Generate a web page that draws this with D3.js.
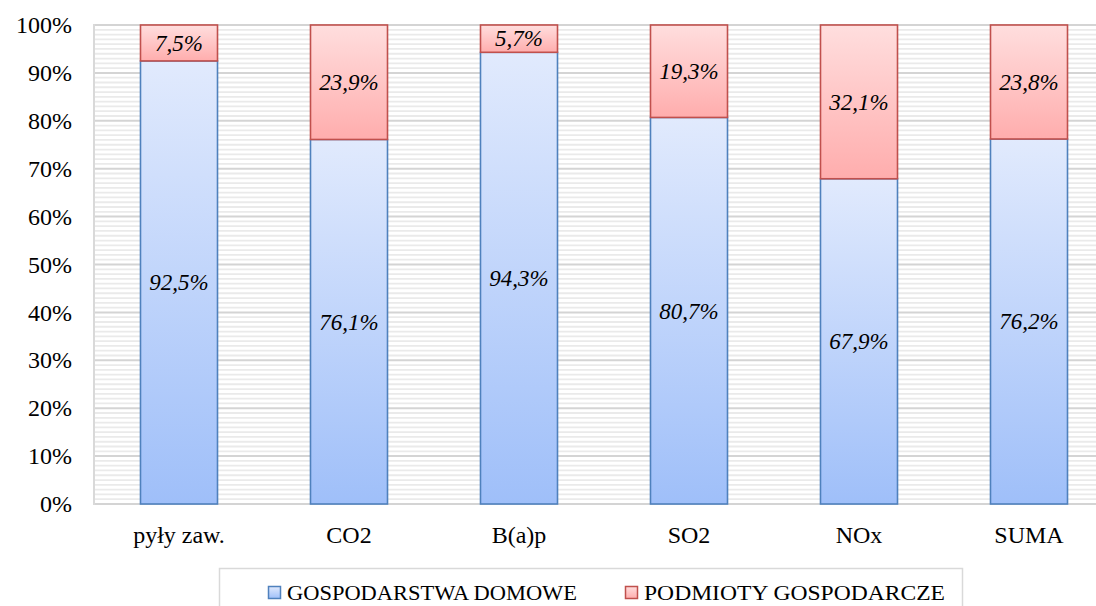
<!DOCTYPE html>
<html>
<head>
<meta charset="utf-8">
<script src="https://cdnjs.cloudflare.com/ajax/libs/d3/7.8.5/d3.min.js"></script>
<style>
body { margin: 0; background: #fff; }
svg { display: block; }
</style>
</head>
<body>
<div id="chart"></div>
<script>
// data
const categories = ["pyły zaw.", "CO2", "B(a)p", "SO2", "NOx", "SUMA"]
const households = [92.5, 76.1, 94.3, 80.7, 67.9, 76.2]
const businesses = [7.5, 23.9, 5.7, 19.3, 32.1, 23.8]
const seriesNames = ["GOSPODARSTWA DOMOWE", "PODMIOTY GOSPODARCZE"]
const yTicks = [0, 10, 20, 30, 40, 50, 60, 70, 80, 90, 100]

const width = 1096, height = 606
const serif = "'Liberation Serif', 'Times New Roman', serif"

const svg = d3.select("#chart").append("svg")
    .attr("width", width)
    .attr("height", height)

const defs = svg.append("defs")

function addGradient(id, top, bottom){
    const g = defs.append("linearGradient")
        .attr("id", id)
        .attr("x1", 0).attr("y1", 0).attr("x2", 0).attr("y2", 1)
    g.append("stop").attr("offset", "0%").attr("stop-color", top)
    g.append("stop").attr("offset", "100%").attr("stop-color", bottom)
}
addGradient("gradBlue", "#e1eafd", "#9fbff9")
addGradient("gradRed", "#ffdede", "#ffadad")

const colors = [
    {fill: "url(#gradBlue)", stroke: "#4f81bd"},
    {fill: "url(#gradRed)", stroke: "#c0504d"}
]

const x = d3.scaleBand()
    .domain(categories)
    .range([94, 1114])
    .paddingInner(0.547)
    .paddingOuter(0.2735)

const y = d3.scaleLinear()
    .domain([0, 100])
    .range([504, 25])

// plot background: minor lines every 1%, major every 10%
const grid = svg.append("g").attr("id", "grid")

grid.selectAll("line.minor")
    .data(d3.range(1, 100).filter(d => d % 10 != 0))
    .enter()
    .append("line")
    .attr("class", "minor")
    .attr("x1", 94).attr("x2", 1114)
    .attr("y1", d => y(d)).attr("y2", d => y(d))
    .attr("stroke", "#eaeaea")
    .attr("stroke-width", 1.8)

grid.selectAll("line.major")
    .data(yTicks)
    .enter()
    .append("line")
    .attr("class", "major")
    .attr("x1", 94).attr("x2", 1114)
    .attr("y1", d => y(d)).attr("y2", d => y(d))
    .attr("stroke", "#d4d4d4")
    .attr("stroke-width", 2)

grid.append("line")
    .attr("x1", 94).attr("x2", 94)
    .attr("y1", y(100) - 1).attr("y2", y(0) + 1)
    .attr("stroke", "#d9d9d9")
    .attr("stroke-width", 2)

// y tick labels
svg.append("g")
    .selectAll("text")
    .data(yTicks)
    .enter()
    .append("text")
    .attr("x", 72)
    .attr("y", d => y(d))
    .attr("dy", "0.34em")
    .attr("text-anchor", "end")
    .style("font-family", serif)
    .style("font-size", "24px")
    .attr("fill", "#000")
    .text(d => d + "%")

// category labels
svg.append("g")
    .selectAll("text")
    .data(categories)
    .enter()
    .append("text")
    .attr("x", d => x(d) + x.bandwidth() / 2)
    .attr("y", 543)
    .attr("text-anchor", "middle")
    .style("font-family", serif)
    .style("font-size", "24px")
    .attr("fill", "#000")
    .text(d => d)

// stacked bars
const table = categories.map((c, i) => ({cat: c, h: households[i], b: businesses[i]}))
const stacked = d3.stack().keys(["h", "b"])(table)

const fmt = v => d3.format(".1f")(v).replace(".", ",") + "%"

const layers = svg.append("g").attr("id", "bars")
    .selectAll("g")
    .data(stacked)
    .enter()
    .append("g")

layers.selectAll("rect")
    .data((s, si) => s.map(d => ({d: d, si: si})))
    .enter()
    .append("rect")
    .attr("x", p => x(p.d.data.cat))
    .attr("width", x.bandwidth())
    .attr("y", p => y(p.d[1]))
    .attr("height", p => y(p.d[0]) - y(p.d[1]))
    .attr("fill", p => colors[p.si].fill)
    .attr("stroke", p => colors[p.si].stroke)
    .attr("stroke-width", 1.6)

layers.selectAll("text")
    .data((s, si) => s.map(d => ({d: d, si: si})))
    .enter()
    .append("text")
    .attr("x", p => x(p.d.data.cat) + x.bandwidth() / 2)
    .attr("y", p => (y(p.d[0]) + y(p.d[1])) / 2)
    .attr("dy", "0.34em")
    .attr("text-anchor", "middle")
    .style("font-family", serif)
    .style("font-style", "italic")
    .style("font-size", "23px")
    .attr("fill", "#000")
    .text(p => fmt(p.d[1] - p.d[0]))

// legend
const legend = svg.append("g").attr("id", "legend")

legend.append("rect")
    .attr("x", 219.5).attr("y", 568.5)
    .attr("width", 743).attr("height", 60)
    .attr("fill", "#fff")
    .attr("stroke", "#d9d9d9")
    .attr("stroke-width", 1.5)

const legendX = [268, 625]
const legendW = [290, 301]

const items = legend.selectAll("g.item")
    .data(seriesNames)
    .enter()
    .append("g")
    .attr("class", "item")
    .attr("transform", (d, i) => "translate(" + legendX[i] + ", " + 586 + ")")

items.append("rect")
    .attr("x", 0.5).attr("y", 0.5)
    .attr("width", 12).attr("height", 12)
    .attr("fill", (d, i) => colors[i].fill)
    .attr("stroke", (d, i) => colors[i].stroke)
    .attr("stroke-width", 1.5)

items.append("text")
    .attr("x", 19)
    .attr("y", 14)
    .attr("textLength", (d, i) => legendW[i])
    .attr("lengthAdjust", "spacingAndGlyphs")
    .style("font-family", serif)
    .style("font-size", "22px")
    .attr("fill", "#000")
    .text(d => d)
</script>
</body>
</html>
